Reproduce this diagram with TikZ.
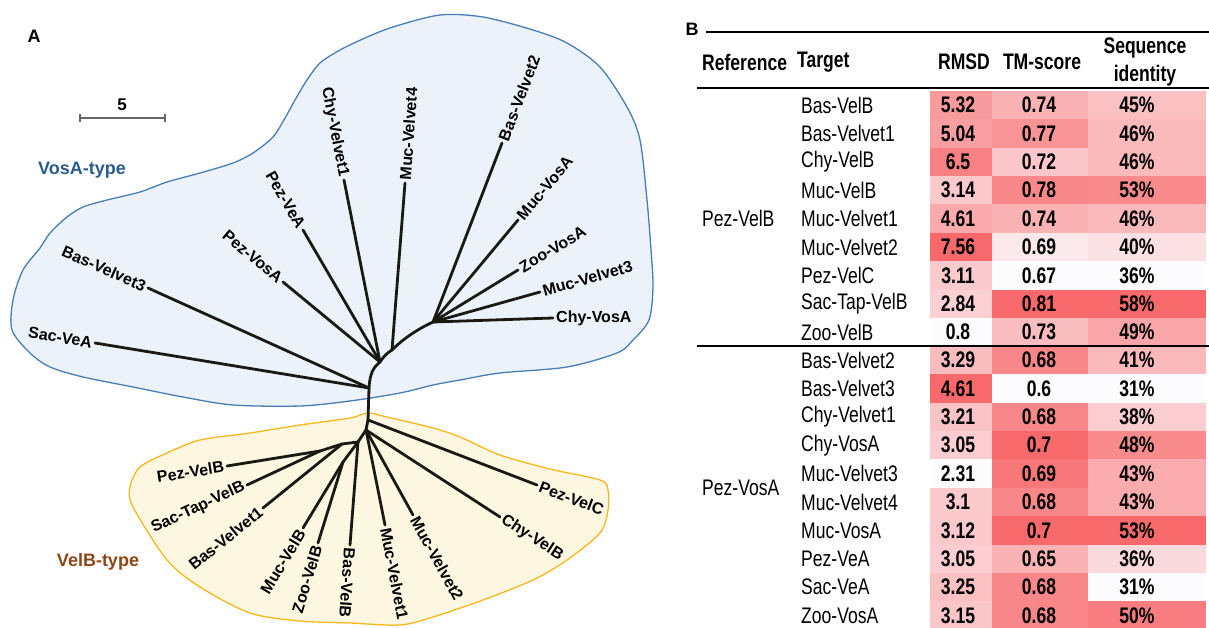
\documentclass[tikz,border=0pt]{standalone}
\usepackage{fontspec}
\setmainfont{Liberation Sans}
\newfontfamily\narrowfont[FakeStretch=0.78]{Liberation Sans}
\definecolor{vosaline}{HTML}{4A7DB5}
\definecolor{vosafill}{HTML}{EBF2F9}
\definecolor{velbline}{HTML}{F6B81A}
\definecolor{velbfill}{HTML}{FDF6E1}
\definecolor{vosatext}{HTML}{2B5C8C}
\definecolor{velbtext}{HTML}{8F4416}
\definecolor{treeblack}{HTML}{1A1A14}
\definecolor{hmred}{HTML}{F8696B}
\definecolor{hmwhite}{HTML}{FCFCFF}

\begin{document}
\begin{tikzpicture}[x=1pt,y=-1pt]
    \tikzstyle{every node}=[font=\bfseries\fontsize{16}{18}\selectfont,inner sep=0pt]
    \tikzstyle{branch}=[line width=2.8pt,draw=treeblack,line cap=round]
    \tikzstyle{leafL}=[anchor=east,inner sep=3pt]
    \tikzstyle{leafR}=[anchor=west,inner sep=3pt]
    \tikzstyle{hdr}=[font=\narrowfont\bfseries\fontsize{22.5}{25}\selectfont]
    \tikzstyle{tgt}=[anchor=west,font=\narrowfont\fontsize{22.5}{25}\selectfont]
    \tikzstyle{num}=[font=\narrowfont\bfseries\fontsize{22.5}{25}\selectfont]
    \useasboundingbox (0,0) rectangle (1209,628);
    %%% PANEL A
    \node[font=\bfseries\fontsize{18}{20}\selectfont] (labA) at (34,36) {A};
    % scale bar
    \coordinate (sb1) at (80,118);
    \coordinate (sb2) at (165,118);
    \draw[line width=1.5pt,draw=black!60] (sb1) -- (sb2);
    \draw[line width=1.2pt,draw=black!60] ([yshift=-4pt]sb1) -- ([yshift=4pt]sb1);
    \draw[line width=1.2pt,draw=black!60] ([yshift=-4pt]sb2) -- ([yshift=4pt]sb2);
    \node[font=\bfseries\fontsize{17}{19}\selectfont] (sbl) at (122,105) {5};
    % clades
    \draw[line width=1.3pt,draw=vosaline,fill=vosafill] plot[smooth cycle,tension=0.5] coordinates {
      (13,300) (23,270) (40,248) (50,233) (67,217) (83,207) (107,200) (140,192)
      (167,182) (200,173) (233,163) (253,153) (273,137) (285,118) (295,100)
      (307,80) (320,63) (340,50) (365,38) (393,27) (440,15) (483,17) (533,30)
      (567,43) (600,67) (627,107) (640,140) (647,200) (651,250) (653,287)
      (649,320) (633,340) (617,353) (567,367) (500,373) (460,380) (433,385)
      (400,393) (350,401) (300,406) (233,405) (183,397) (133,387) (83,377)
      (50,367) (30,353) (12,330)};
    \draw[line width=1.3pt,draw=velbline,fill=velbfill] plot[smooth cycle,tension=0.5] coordinates {
      (130,487) (140,467) (167,453) (200,440) (250,433) (300,425) (350,418)
      (368,413) (387,417) (433,428) (460,437) (500,455) (550,469) (600,480)
      (608,490) (608,510) (600,533) (567,560) (533,580) (483,600) (433,617)
      (400,625) (350,623) (300,621) (250,613) (200,587) (167,560) (133,507)};
    \node[text=vosatext,font=\bfseries\fontsize{18}{20}\selectfont] (vosa) at (82,170) {VosA-type};
    \node[text=velbtext,font=\bfseries\fontsize{18}{20}\selectfont] (velb) at (98,562) {VelB-type};
    % internal nodes
    \coordinate (R0) at (369,388);
    \coordinate (A1) at (380,362);
    \coordinate (A2) at (392,350);
    \coordinate (A3) at (433,322);
    \coordinate (J1) at (368,420);
    \coordinate (J2) at (366,430);
    \coordinate (J3) at (358,442);
    \coordinate (J4) at (343,462);
    \coordinate (J5) at (342,444);
    \coordinate (J6) at (320,451);
    % VosA leaves
    \node[leafL,rotate=-9] (SacVeA) at (95,343) {Sac-VeA};
    \node[leafL,rotate=-24] (BasVelvetC) at (148,288) {Bas-Velvet3};
    \node[leafL,rotate=-40] (PezVosA) at (283,282) {Pez-VosA};
    \node[leafL,rotate=-60] (PezVeA) at (303,230) {Pez-VeA};
    \node[leafL,rotate=-79] (ChyVelvetA) at (344,180) {Chy-Velvet1};
    \node[leafR,rotate=86] (MucVelvetD) at (405,183) {Muc-Velvet4};
    \node[leafR,rotate=69] (BasVelvetB) at (502,143) {Bas-Velvet2};
    \node[leafR,rotate=50] (MucVosA) at (518,220) {Muc-VosA};
    \node[leafR,rotate=31] (ZooVosA) at (518,270) {Zoo-VosA};
    \node[leafR,rotate=16] (MucVelvetC) at (540,292) {Muc-Velvet3};
    \node[leafR] (ChyVosA) at (553,318) {Chy-VosA};
    % VelB leaves
    \node[leafR,rotate=-21] (PezVelC) at (537,485) {Pez-VelC};
    \node[leafR,rotate=-33] (ChyVelB) at (500,517) {Chy-VelB};
    \node[leafR,rotate=-61] (MucVelvetB) at (413,515) {Muc-Velvet2};
    \node[leafR,rotate=-79] (MucVelvetA) at (385,525) {Muc-Velvet1};
    \node[leafR,rotate=-94] (BasVelB) at (350,545) {Bas-VelB};
    \node[leafL,rotate=73] (ZooVelB) at (318,543) {Zoo-VelB};
    \node[leafL,rotate=59] (MucVelB) at (303,528) {Muc-VelB};
    \node[leafL,rotate=39] (BasVelvetA) at (263,508) {Bas-Velvet1};
    \node[leafL,rotate=25] (SacTapVelB) at (247,485) {Sac-Tap-VelB};
    \node[leafL,rotate=9] (PezVelB) at (227,466) {Pez-VelB};
    % branches
    \draw[branch] (R0) .. controls (370,372) and (374,367) .. (A1)
                       .. controls (384,356) and (387,353) .. (A2)
                       .. controls (404,338) and (418,329) .. (A3);
    \draw[branch] (R0) -- (J1) -- (J2) -- (J3);
    \draw[branch] (J3) -- (J4);
    \draw[branch] (J3) -- (J5) -- (J6);
    \draw[branch] (R0) -- (SacVeA.east);
    \draw[branch] (R0) -- (BasVelvetC.east);
    \draw[branch] (A1) -- (PezVosA.east);
    \draw[branch] (A1) -- (PezVeA.east);
    \draw[branch] (A1) -- (ChyVelvetA.east);
    \draw[branch] (A2) -- (MucVelvetD.west);
    \draw[branch] (A3) -- (BasVelvetB.west);
    \draw[branch] (A3) -- (MucVosA.west);
    \draw[branch] (A3) -- (ZooVosA.west);
    \draw[branch] (A3) -- (MucVelvetC.west);
    \draw[branch] (A3) -- (ChyVosA.west);
    \draw[branch] (J1) -- (PezVelC.west);
    \draw[branch] (J2) -- (ChyVelB.west);
    \draw[branch] (J2) -- (MucVelvetB.west);
    \draw[branch] (J2) -- (MucVelvetA.west);
    \draw[branch] (J3) -- (BasVelB.west);
    \draw[branch] (J4) -- (ZooVelB.east);
    \draw[branch] (J4) -- (MucVelB.east);
    \draw[branch] (J5) -- (BasVelvetA.east);
    \draw[branch] (J6) -- (SacTapVelB.east);
    \draw[branch] (J6) -- (PezVelB.east);
    %%% PANEL B
    \node[font=\bfseries\fontsize{18}{20}\selectfont] (labB) at (692,29) {B};
    \coordinate (ruleA) at (706,32);
    \coordinate (ruleB) at (697,88);
    \coordinate (ruleC) at (697,346);
    \draw[line width=1.5pt] (ruleA) -- (1209,32);
    \draw[line width=2pt] (ruleB) -- (1209,88);
    % cells, group Pez-VelB
    \foreach \i/\tgt/\valR/\pctR/\valT/\pctT/\valS/\pctS in {
        0/Bas-VelB/5.32/67/0.74/50/45/41,
        1/Bas-Velvet1/5.04/63/0.77/71/46/45,
        2/Chy-VelB/6.5/84/0.72/36/46/45,
        3/Muc-VelB/3.14/35/0.78/79/53/77,
        4/Muc-Velvet1/4.61/56/0.74/50/46/45,
        5/Muc-Velvet2/7.56/100/0.69/14/40/18,
        6/Pez-VelC/3.11/34/0.67/0/36/0,
        7/Sac-Tap-VelB/2.84/30/0.81/100/58/100,
        8/Zoo-VelB/0.8/0/0.73/43/49/59}{
      \pgfmathsetmacro\yy{105+28.4*\i}
      \fill[hmred!\pctR!hmwhite] (930,\yy-14.2) rectangle (992,\yy+14.2);
      \fill[hmred!\pctT!hmwhite] (992,\yy-14.2) rectangle (1088,\yy+14.2);
      \fill[hmred!\pctS!hmwhite] (1088,\yy-14.2) rectangle (1206,\yy+14.2);
      \node[tgt] (ta\i) at (801,\yy) {\tgt};
      \node[num] (ra\i) at (958,\yy) {\valR};
      \node[num] (ma\i) at (1039,\yy) {\valT};
      \node[num] (sa\i) at (1137,\yy) {\valS\%};
    }
    % cells, group Pez-VosA
    \foreach \i/\tgt/\valR/\pctR/\valT/\pctT/\valS/\pctS in {
        0/Bas-Velvet2/3.29/43/0.68/80/41/45,
        1/Bas-Velvet3/4.61/100/0.6/0/31/0,
        2/Chy-Velvet1/3.21/39/0.68/80/38/32,
        3/Chy-VosA/3.05/32/0.7/100/48/77,
        4/Muc-Velvet3/2.31/0/0.69/90/43/55,
        5/Muc-Velvet4/3.1/34/0.68/80/43/55,
        6/Muc-VosA/3.12/35/0.7/100/53/100,
        7/Pez-VeA/3.05/32/0.65/50/36/23,
        8/Sac-VeA/3.25/41/0.68/80/31/0,
        9/Zoo-VosA/3.15/37/0.68/80/50/86}{
      \pgfmathsetmacro\yy{360+28.4*\i}
      \fill[hmred!\pctR!hmwhite] (930,\yy-14.2) rectangle (992,\yy+14.2);
      \fill[hmred!\pctT!hmwhite] (992,\yy-14.2) rectangle (1088,\yy+14.2);
      \fill[hmred!\pctS!hmwhite] (1088,\yy-14.2) rectangle (1206,\yy+14.2);
      \node[tgt] (tb\i) at (801,\yy) {\tgt};
      \node[num] (rb\i) at (958,\yy) {\valR};
      \node[num] (mb\i) at (1039,\yy) {\valT};
      \node[num] (sb\i) at (1137,\yy) {\valS\%};
    }
    \draw[line width=1.5pt] (ruleC) -- (1209,346);
    % header
    \node[hdr,anchor=west] (hRef) at (702,62) {Reference};
    \node[hdr,anchor=west] (hTarget) at (797,62) {Target};
    \node[hdr] (hRMSD) at (964,62) {RMSD};
    \node[hdr] (hTM) at (1042,62) {TM-score};
    \node[hdr] (hSeqA) at (1145,48) {Sequence};
    \node[hdr] (hSeqB) at (1145,76) {identity};
    % reference proteins
    \node[tgt] (refA) at (702,218.6) {Pez-VelB};
    \node[tgt] (refB) at (702,488) {Pez-VosA};
\end{tikzpicture}
\end{document}
